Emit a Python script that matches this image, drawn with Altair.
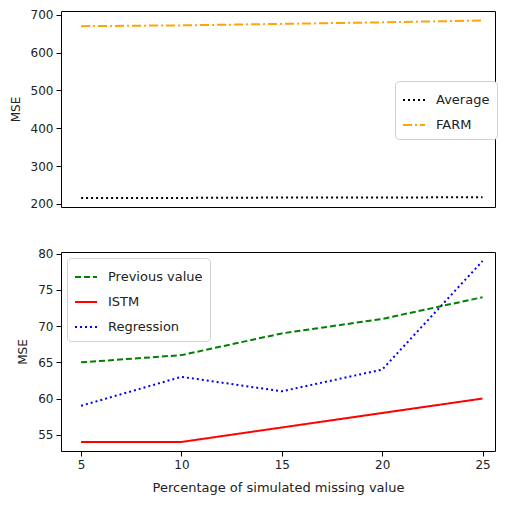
import altair as alt
import pandas as pd

x_vals = [5, 10, 15, 20, 25]
average = [216, 216, 217, 217, 218]
farm = [670, 672, 676, 680, 685]
previous_value = [65, 66, 69, 71, 74]
istm = [54, 54, 56, 58, 60]
regression = [59, 63, 61, 64, 79]

top_series = ["Average", "FARM"]
top_colors = ["#000000", "#FFA500"]
top_dashes = [[2, 3], [9, 3, 2, 3]]

bottom_series = ["Previous value", "ISTM", "Regression"]
bottom_colors = ["#008000", "#FF0000", "#0000FF"]
bottom_dashes = [[6, 3], [1, 0], [2, 3]]

top_y_ticks = [200, 300, 400, 500, 600, 700]
bottom_y_ticks = [55, 60, 65, 70, 75, 80]
x_ticks = [5, 10, 15, 20, 25]

FONT = "DejaVu Sans"
W = 434

top_df = pd.DataFrame({
    "x": x_vals * 2,
    "y": average + farm,
    "series": ["Average"] * 5 + ["FARM"] * 5,
})
bottom_df = pd.DataFrame({
    "x": x_vals * 3,
    "y": previous_value + istm + regression,
    "series": ["Previous value"] * 5 + ["ISTM"] * 5 + ["Regression"] * 5,
})

xscale = alt.Scale(domain=[4, 25.62], nice=False, zero=False)


def make_legend(lx, ly):
    return alt.Legend(
        title=None, orient="none", legendX=lx, legendY=ly,
        symbolType="stroke", symbolSize=484, symbolStrokeWidth=2,
        labelFontSize=13, labelFont=FONT, labelColor="#222",
        fillColor="white", strokeColor="#d0d0d0", cornerRadius=4,
        padding=7, rowPadding=6, labelOffset=10,
    )


def yaxis(ticks):
    return alt.Axis(title="MSE", values=ticks, grid=False, domain=False,
                    ticks=True, tickSize=5, tickColor="black",
                    labelFontSize=12, labelFont=FONT, labelColor="#222",
                    labelPadding=3, titleFontSize=12, titleFont=FONT,
                    titleFontWeight="normal", titleColor="#222", titlePadding=8)


top = alt.Chart(top_df).mark_line(strokeWidth=2).encode(
    x=alt.X("x:Q", scale=xscale, axis=None),
    y=alt.Y("y:Q", scale=alt.Scale(domain=[192, 710], nice=False, zero=False),
            axis=yaxis(top_y_ticks)),
    color=alt.Color("series:N", scale=alt.Scale(domain=top_series, range=top_colors),
                    legend=make_legend(W - 100, 70)),
    strokeDash=alt.StrokeDash("series:N", scale=alt.Scale(domain=top_series, range=top_dashes),
                              legend=make_legend(W - 100, 70)),
).properties(width=W, height=196)

bottom = alt.Chart(bottom_df).mark_line(strokeWidth=2).encode(
    x=alt.X("x:Q", scale=xscale,
            axis=alt.Axis(title="Percentage of simulated missing value", values=x_ticks,
                          grid=False, domain=False, tickSize=5, tickColor="black",
                          labelFontSize=12, labelFont=FONT, labelColor="#222",
                          labelPadding=3, titleFontSize=13, titleFont=FONT,
                          titleFontWeight="normal", titleColor="#222", titlePadding=11)),
    y=alt.Y("y:Q", scale=alt.Scale(domain=[52.75, 80.25], nice=False, zero=False),
            axis=yaxis(bottom_y_ticks)),
    color=alt.Color("series:N", scale=alt.Scale(domain=bottom_series, range=bottom_colors),
                    legend=make_legend(6, 6)),
    strokeDash=alt.StrokeDash("series:N", scale=alt.Scale(domain=bottom_series, range=bottom_dashes),
                              legend=make_legend(6, 6)),
).properties(width=W, height=199)

chart = alt.vconcat(top, bottom, spacing=36).resolve_scale(
    color="independent", strokeDash="independent"
).properties(padding={"left": 0, "top": 0, "right": 0, "bottom": 0}).configure_view(
    stroke="black", strokeWidth=1
)

chart.save("out.html", embed_options={"renderer": "svg", "actions": False})
